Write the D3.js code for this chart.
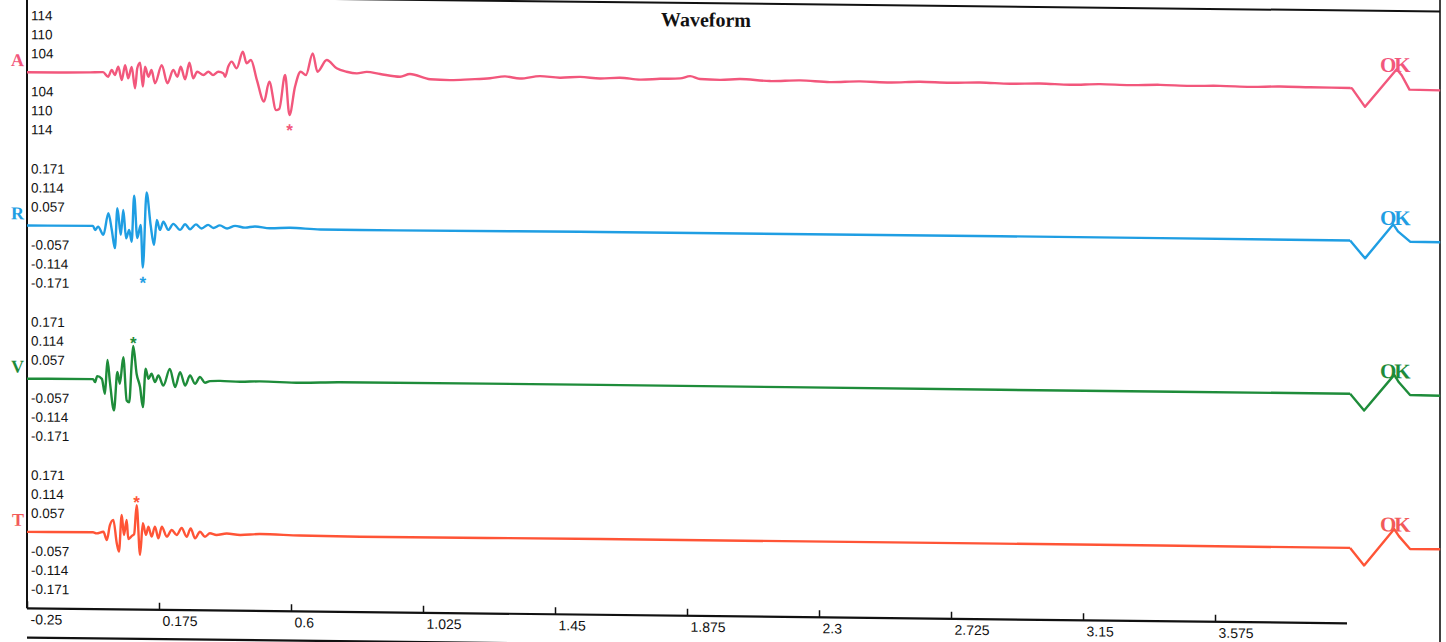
<!DOCTYPE html>
<html>
<head>
<meta charset="utf-8">
<script src="https://cdn.jsdelivr.net/npm/d3@7"></script>
<style>
  html, body { margin: 0; padding: 0; background: #ffffff; }
  svg { display: block; }
</style>
</head>
<body>
<svg id="chart" width="1446" height="642"></svg>
<script>
// ---------------- DATA ----------------
const title = "Waveform";
const channels = ["A", "R", "V", "T"];
const channelColors = ["#f2577c", "#1f9ee3", "#1e8c3a", "#ff5436"];
const labelColors = ["#f2577c", "#1f9ee3", "#1e8c3a", "#f25a5a"];

const timeTicks = [-0.25, 0.175, 0.6, 1.025, 1.45, 1.875, 2.3, 2.725, 3.15, 3.575];
const timeTickLabels = ["-0.25", "0.175", "0.6", "1.025", "1.45", "1.875", "2.3", "2.725", "3.15", "3.575"];

const levelTicks = [0.171, 0.114, 0.057, -0.057, -0.114, -0.171];
const aTickLabels = ["114", "110", "104", "104", "110", "114"];
const rvtTickLabels = ["0.171", "0.114", "0.057", "-0.057", "-0.114", "-0.171"];

// [time (s), value]
const seriesA = [
  [-0.25, 0], [-0.047, 0.002], [-0.005, 0.003], [0.011, -0.0105], [0.023, 0.0098], [0.033, -0.005],
  [0.044, 0.020], [0.055, -0.020], [0.066, 0.025], [0.076, -0.0146], [0.087, 0.020], [0.098, -0.044],
  [0.105, 0.016], [0.114, 0.033], [0.123, -0.039], [0.130, 0.021], [0.141, -0.009], [0.151, 0.011],
  [0.162, -0.0285], [0.184, 0.026], [0.202, -0.028], [0.221, 0.012], [0.234, -0.008], [0.245, 0.022],
  [0.259, -0.0156], [0.273, 0.034], [0.285, -0.012], [0.298, 0.0075], [0.318, -0.002], [0.334, 0.008],
  [0.349, -0.002], [0.366, 0.008], [0.382, 0.004], [0.388, -0.0066], [0.398, 0.024], [0.409, 0.039],
  [0.425, 0.019], [0.445, 0.069], [0.457, 0.0345], [0.471, 0.0445], [0.490, -0.015], [0.513, -0.080],
  [0.530, -0.020], [0.552, -0.105], [0.562, -0.1015], [0.581, 0.0006], [0.595, -0.119], [0.613, -0.034],
  [0.631, 0.011], [0.648, 0.0014], [0.670, 0.0666], [0.685, 0.0117], [0.715, 0.047], [0.747, 0.0225],
  [0.779, 0.0126], [0.812, 0.008], [0.844, 0.013], [0.887, 0.007], [0.951, -0.0006], [0.983, 0.008],
  [1.048, -0.007], [1.112, -0.009], [1.176, -0.006], [1.241, -0.002], [1.289, 0.004], [1.337, -0.002],
  [1.402, 0.006], [1.466, 0.002], [1.531, 0.005], [1.595, 0.001], [1.659, 0.004], [1.724, -0.001],
  [1.788, 0.002], [1.853, 0.004], [1.885, 0.011], [1.917, 0.003], [1.981, 0.001], [2.046, 0.004],
  [2.142, -0.001], [2.239, 0.002], [2.335, -0.002], [2.432, 0.001], [2.529, -0.001], [2.625, 0.002],
  [2.722, 0], [2.818, 0.002], [2.915, -0.001], [3.011, 0.001], [3.108, -0.002], [3.205, 0.001],
  [3.301, -0.001], [3.398, 0.001], [3.494, -0.001], [3.591, 0], [3.688, -0.002], [3.784, 0],
  [3.881, -0.001], [4.010, -0.002], [4.016, -0.003], [4.058, -0.058], [4.160, 0.056], [4.176, 0.038],
  [4.201, -0.005], [4.300, -0.006]
];

const seriesR = [
  [-0.25, 0], [-0.0375, 0.001], [-0.031, -0.011], [-0.021, -0.001], [-0.004, -0.0256], [0.012, 0.040],
  [0.023, -0.0105], [0.033, -0.065], [0.041, 0.055], [0.052, -0.025], [0.060, 0.050], [0.069, -0.035],
  [0.079, -0.0096], [0.087, -0.045], [0.095, 0.093], [0.105, -0.034], [0.116, 0.0057], [0.123, -0.122],
  [0.135, 0.103], [0.148, 0.006], [0.159, -0.054], [0.168, 0.021], [0.178, -0.0087], [0.189, 0.016],
  [0.205, -0.0084], [0.221, 0.010], [0.243, -0.008], [0.259, 0.0093], [0.275, -0.0057], [0.294, 0.009],
  [0.312, -0.003], [0.333, 0.008], [0.350, -0.001], [0.371, 0.007], [0.394, -0.002], [0.420, 0.006],
  [0.452, 0.001], [0.484, 0.005], [0.532, 0], [0.597, 0.002], [0.694, -0.002], [0.822, -0.002],
  [1.595, 0], [2.883, 0.001], [4.010, 0], [4.058, -0.053], [4.149, 0.050], [4.164, 0.029],
  [4.203, -0.0015], [4.300, -0.002]
];

const seriesV = [
  [-0.25, 0], [-0.0375, 0.001], [-0.031, -0.008], [-0.024, 0.010], [-0.009, 0.002], [0.001, -0.043],
  [0.009, 0.059], [0.017, -0.0075], [0.030, -0.092], [0.041, 0.023], [0.049, -0.012], [0.060, 0.068],
  [0.071, -0.062], [0.079, -0.067], [0.087, 0.048], [0.092, 0.102], [0.103, 0.018], [0.114, -0.021],
  [0.123, -0.081], [0.132, 0.034], [0.141, 0.004], [0.151, 0.019], [0.162, -0.006], [0.173, 0.014],
  [0.189, -0.016], [0.210, 0.0345], [0.227, -0.020], [0.243, 0.025], [0.259, -0.015], [0.275, 0.015],
  [0.291, -0.0096], [0.307, 0.011], [0.323, -0.006], [0.339, -0.001], [0.372, 0], [0.436, -0.002],
  [0.500, 0], [0.629, -0.003], [0.758, 0], [1.595, 0.001], [2.883, 0], [4.010, 0],
  [4.055, -0.050], [4.152, 0.058], [4.167, 0.036], [4.203, -0.002], [4.300, -0.003]
];

const seriesT = [
  [-0.25, 0], [-0.0375, 0.001], [-0.026, -0.002], [-0.004, 0.003], [0.007, -0.0216], [0.017, 0.023],
  [0.028, 0.039], [0.039, -0.031], [0.046, -0.056], [0.055, 0.054], [0.062, -0.006], [0.071, 0.039],
  [0.076, -0.018], [0.087, -0.009], [0.095, -0.003], [0.103, 0.084], [0.114, -0.065], [0.123, 0.030],
  [0.133, -0.005], [0.141, 0.020], [0.151, -0.010], [0.162, 0.020], [0.173, -0.015], [0.184, 0.020],
  [0.200, -0.0095], [0.216, 0.0105], [0.232, -0.004], [0.248, 0.017], [0.264, -0.009], [0.277, 0.016],
  [0.291, -0.0135], [0.307, 0.0065], [0.323, -0.0085], [0.339, 0.002], [0.360, -0.003], [0.393, 0.002],
  [0.436, -0.002], [0.500, 0.0015], [0.629, -0.0015], [0.822, -0.003], [1.595, -0.002], [2.883, -0.002],
  [4.010, -0.003], [4.055, -0.055], [4.152, 0.055], [4.167, 0.034], [4.203, -0.004], [4.300, -0.004]
];

const allSeries = [seriesA, seriesR, seriesV, seriesT];
const okLabel = "OK";
const okTime = 4.152;
const pulseStart = 4.010;

// ---------------- CHART ----------------
const svg = d3.select("#chart");
svg.append("rect").attr("width", 1446).attr("height", 642).attr("fill", "#ffffff");

// the scanned sheet is slightly sheared
const root = svg.append("g").attr("transform", "skewY(0.65)");

const x = d3.scaleLinear().domain([-0.25, 4.3]).range([27, 1440.2]);
const axisY = 608;
const channelBase = d3.scalePoint().domain(channels).range([72, 531.6]);
const yOff = d3.scaleLinear().domain([-0.171, 0.171]).range([57, -57]);

// frame
root.append("line").attr("x1", 27).attr("x2", 1440).attr("y1", -4.8).attr("y2", -4.8)
  .attr("stroke", "#111").attr("stroke-width", 2);
root.append("line").attr("x1", 1440).attr("x2", 1440).attr("y1", -20).attr("y2", 680)
  .attr("stroke", "#111").attr("stroke-width", 1.6);
root.append("line").attr("x1", 27).attr("x2", 27).attr("y1", -20).attr("y2", axisY)
  .attr("stroke", "#111").attr("stroke-width", 2);
root.append("line").attr("x1", 27).attr("x2", 1440).attr("y1", 637.3).attr("y2", 637.3)
  .attr("stroke", "#111").attr("stroke-width", 2.2);

// title
root.append("text").attr("x", 706).attr("y", 18.5).attr("text-anchor", "middle")
  .attr("font-family", "'Liberation Serif', 'Times New Roman', serif").attr("font-weight", "bold")
  .attr("font-size", 20).attr("fill", "#111").text(title);

// bottom axis
const xAxis = d3.axisBottom(x).tickValues(timeTicks)
  .tickFormat((d, i) => timeTickLabels[i])
  .tickSizeInner(-7).tickSizeOuter(0).tickPadding(6);
const gx = root.append("g").attr("transform", `translate(0,${axisY})`).call(xAxis);
gx.select(".domain").remove();
gx.selectAll(".tick line").attr("stroke", "#111").attr("stroke-width", 1.5);
gx.selectAll(".tick text").attr("text-anchor", "start").attr("dx", 3)
  .attr("font-family", "'Liberation Sans', Arial, sans-serif").attr("font-size", 14).attr("fill", "#111");
root.append("line").attr("x1", x(-0.25)).attr("x2", x(4.0)).attr("y1", axisY).attr("y2", axisY)
  .attr("stroke", "#111").attr("stroke-width", 2.2);

// channels
channels.forEach((ch, i) => {
  const base = channelBase(ch);
  const data = allSeries[i];
  const color = channelColors[i];
  const y = yOff.copy().range([base + 57, base - 57]);

  // level labels
  const labels = i === 0 ? aTickLabels : rvtTickLabels;
  const yAxis = d3.axisRight(y).tickValues(levelTicks)
    .tickFormat((d, k) => labels[k]).tickSize(0).tickPadding(4);
  const gy = root.append("g").attr("transform", "translate(27,0)").call(yAxis);
  gy.select(".domain").remove();
  gy.selectAll(".tick text").attr("font-family", "'Liberation Sans', Arial, sans-serif")
    .attr("font-size", 13.5).attr("fill", "#111");

  // channel letter
  root.append("text").attr("x", 24).attr("y", base - 6).attr("text-anchor", "end")
    .attr("font-family", "'Liberation Serif', 'Times New Roman', serif").attr("font-weight", "bold")
    .attr("font-size", 18).attr("fill", labelColors[i]).text(ch);

  // waveform (smooth record) + calibration pulse (straight segments)
  const smooth = d3.line().x(d => x(d[0])).y(d => y(d[1])).curve(d3.curveMonotoneX);
  const straight = d3.line().x(d => x(d[0])).y(d => y(d[1]));
  root.append("path").datum(data.filter(d => d[0] <= pulseStart)).attr("d", smooth).attr("fill", "none")
    .attr("stroke", color).attr("stroke-width", 2.4).attr("stroke-linejoin", "round");
  root.append("path").datum(data.filter(d => d[0] >= pulseStart)).attr("d", straight).attr("fill", "none")
    .attr("stroke", color).attr("stroke-width", 2.4).attr("stroke-linejoin", "round");

  // peak marker
  const peak = d3.greatest(data.filter(d => d[0] < 3), d => Math.abs(d[1]));
  const py = y(peak[1]);
  const ay = peak[1] < 0 ? py + 11 + 10 : py - 7 + 10;
  root.append("text").attr("x", x(peak[0])).attr("y", ay).attr("text-anchor", "middle")
    .attr("font-family", "'Liberation Sans', Arial, sans-serif").attr("font-weight", "bold")
    .attr("font-size", 17).attr("fill", color).text("*");

  // calibration OK label
  root.append("text").attr("x", x(okTime)).attr("y", base - 16).attr("text-anchor", "middle")
    .attr("font-family", "'Liberation Serif', 'Times New Roman', serif").attr("font-weight", "bold")
    .attr("font-size", 21).attr("letter-spacing", -2).attr("fill", labelColors[i]).text(okLabel);
});
</script>
</body>
</html>
